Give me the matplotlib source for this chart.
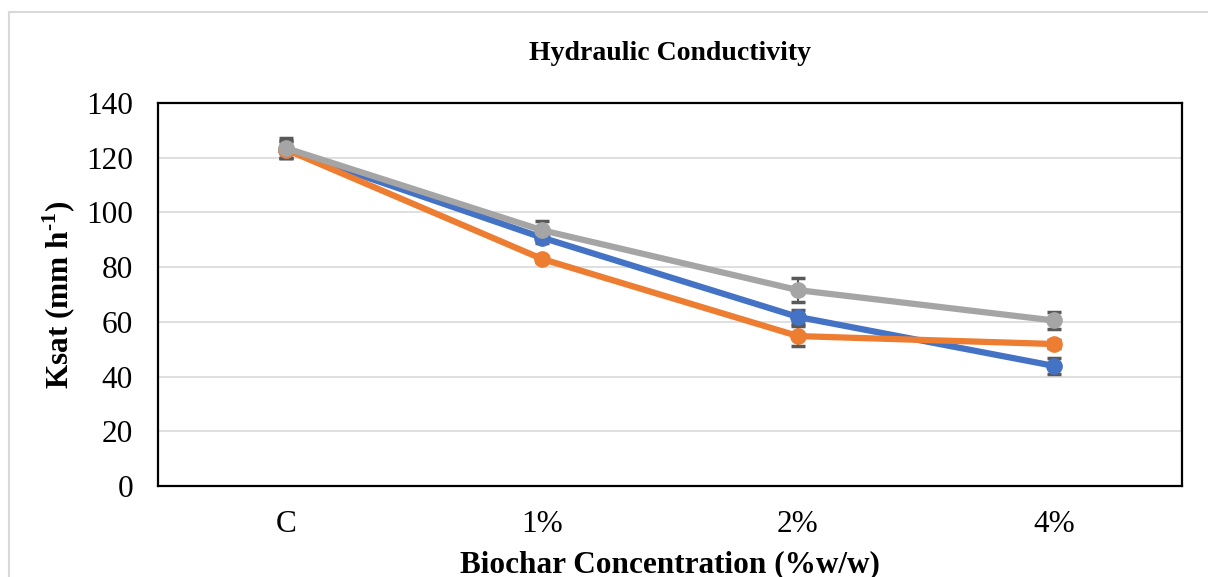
import matplotlib.pyplot as plt
from matplotlib.lines import Line2D

plt.rcParams['font.family'] = ['Liberation Serif', 'DejaVu Serif']
plt.rcParams['mathtext.fontset'] = 'custom'
plt.rcParams['mathtext.rm'] = 'Liberation Serif:bold'
plt.rcParams['mathtext.bf'] = 'Liberation Serif:bold'

# Saturated hydraulic conductivity per biochar concentration
categories = ['C', '1%', '2%', '4%']
blue_vals = [123.0, 90.8, 61.8, 43.9]
blue_err = [3.0, 2.0, 2.5, 3.0]
orange_vals = [123.0, 83.0, 54.8, 51.9]
orange_err = [3.0, 1.2, 3.7, 1.5]
gray_vals = [123.5, 93.5, 71.6, 60.5]
gray_err = [3.6, 3.2, 4.4, 3.0]

series = [
    (blue_vals, blue_err, '#4472c4'),
    (orange_vals, orange_err, '#ed7d31'),
    (gray_vals, gray_err, '#a5a5a5'),
]

fig = plt.figure(figsize=(12.08, 5.77), dpi=100)
ax = fig.add_axes([158 / 1208, 1 - 486 / 577, 1024 / 1208, 383 / 577])

x = list(range(len(categories)))
for vals, err, col in series:
    ax.errorbar(x, vals, yerr=err, color=col, lw=4.5, marker='o', ms=11,
                mec=col, mfc=col, ecolor='#595959', elinewidth=1.5,
                capsize=5, capthick=2.5, zorder=3)

ax.set_xlim(-0.5, 3.5)
ax.set_ylim(0, 140)
ax.set_yticks(range(0, 141, 20))
ax.set_xticks(x)
ax.set_xticklabels(categories)
ax.tick_params(length=0, labelsize=22.5)
ax.tick_params(axis='y', pad=18)
ax.tick_params(axis='x', pad=17)
ax.grid(axis='y', color='#d9d9d9', lw=1.2, zorder=0)
for s in ax.spines.values():
    s.set_linewidth(1.6)
    s.set_color('black')

ax.set_title('Hydraulic Conductivity', fontsize=20, fontweight='bold', pad=31)
ax.set_xlabel('Biochar Concentration (%w/w)', fontsize=22.5, fontweight='bold', labelpad=8)
ax.set_ylabel(r'Ksat (mm h$^{\text{-1}}$)', fontsize=22.5, fontweight='bold', labelpad=6)

# light frame around the chart area
fig.add_artist(Line2D([9 / 1208, 9 / 1208], [0, 1 - 12 / 577], color='#d9d9d9', lw=1.5))
fig.add_artist(Line2D([9 / 1208, 1], [1 - 12 / 577, 1 - 12 / 577], color='#d9d9d9', lw=1.5))

fig.savefig('out.png', dpi=100)
